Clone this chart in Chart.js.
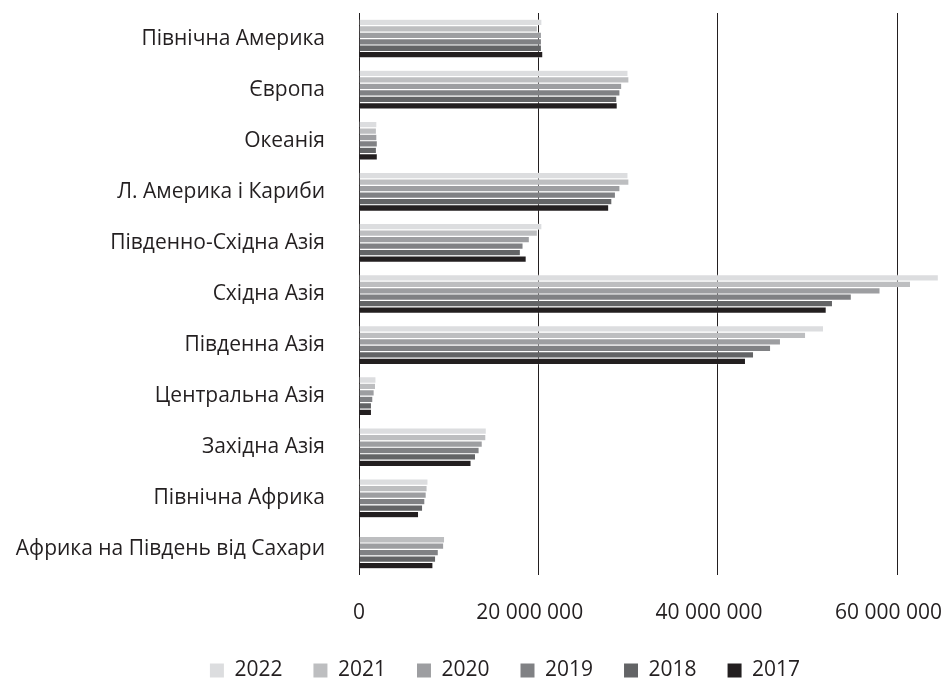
<!DOCTYPE html>
<html>
<head>
<meta charset="utf-8">
<script src="https://cdn.jsdelivr.net/npm/chart.js@4"></script>
<style>
  html, body { margin: 0; padding: 0; background: #fff; overflow: hidden; }
  #wrap { width: 942px; height: 679px; }
</style>
</head>
<body>
<div id="wrap"><canvas id="myChart"></canvas></div>
<script>
const regions = ["Північна Америка", "Європа", "Океанія", "Л. Америка і Кариби", "Південно-Східна Азія",
  "Східна Азія", "Південна Азія", "Центральна Азія", "Західна Азія", "Північна Африка", "Африка на Південь від Сахари"];

const years = ["2022", "2021", "2020", "2019", "2018", "2017"];

const v2022 = [20400000, 30000000, 2000000, 30000000, 20400000, 64600000, 51800000, 1900000, 14200000, 7700000, null];
const v2021 = [19900000, 30100000, 1950000, 30100000, 19900000, 61500000, 49800000, 1850000, 14150000, 7600000, 9550000];
const v2020 = [20350000, 29300000, 2000000, 29100000, 19000000, 58100000, 47000000, 1700000, 13750000, 7500000, 9450000];
const v2019 = [20350000, 29100000, 2050000, 28600000, 18300000, 54900000, 45900000, 1550000, 13400000, 7350000, 8850000];
const v2018 = [20350000, 28750000, 1950000, 28200000, 18000000, 52800000, 44000000, 1400000, 13000000, 7100000, 8550000];
const v2017 = [20500000, 28800000, 2050000, 27850000, 18650000, 52100000, 43100000, 1400000, 12500000, 6650000, 8250000];

const xTicks = [0, 20000000, 40000000, 60000000];

const series = [v2022, v2021, v2020, v2019, v2018, v2017];
const colors = ["#dcdddf", "#bdbec0", "#9d9ea1", "#808184", "#636466", "#231f20"];

const textColor = "#231f20";
const fontFamily = "'Open Sans', 'Noto Sans', sans-serif";

function fmt(v) {
  if (v === 0) return "0";
  // trailing figure space keeps the label a bit left of its gridline, like the original
  return String(v).replace(/\B(?=(\d{3})+(?!\d))/g, " ") + "\u2007 ";
}

// the legend sits a bit right of the page centre in the original
const shiftLegend = {
  id: "shiftLegend",
  afterLayout(chart) {
    chart.legend.left += 34;
    chart.legend.right += 34;
  },
};

const data = {
  labels: regions,
  datasets: years.map((y, i) => ({
    label: y,
    data: series[i],
    backgroundColor: colors[i],
    borderColor: "rgba(255,255,255,0.55)",
    borderWidth: 0.6,
    categoryPercentage: 0.76,
    barPercentage: 1,
  })),
};

const config = {
  type: "bar",
  data: data,
  plugins: [shiftLegend],
  options: {
    indexAxis: "y",
    responsive: true,
    maintainAspectRatio: false,
    animation: false,
    layout: { padding: { top: 13, left: 0, right: 0, bottom: -12 } },
    plugins: {
      tooltip: { enabled: false },
      legend: {
        position: "bottom",
        labels: {
          color: textColor,
          font: { family: fontFamily, size: 21 },
          boxWidth: 14,
          boxHeight: 14,
          padding: 31,
          generateLabels: (chart) =>
            chart.data.datasets.map((ds, i) => ({
              text: ds.label,
              fillStyle: ds.backgroundColor,
              strokeStyle: ds.backgroundColor,
              lineWidth: 0,
              fontColor: textColor,
              datasetIndex: i,
              hidden: false,
            })),
        },
      },
    },
    scales: {
      x: {
        min: 0,
        max: 65000000,
        afterBuildTicks: (scale) => {
          scale.ticks = xTicks.map((v) => ({ value: v }));
        },
        afterFit: (scale) => {
          scale.paddingLeft = 0;
          scale.paddingRight = 0;
          scale.height = 54;
        },
        grid: { color: "#231f20", lineWidth: 1, drawTicks: false },
        border: { display: false },
        ticks: {
          color: textColor,
          font: { family: fontFamily, size: 21 },
          padding: 25,
          maxRotation: 0,
          autoSkip: false,
          callback: (v) => fmt(v),
        },
      },
      y: {
        grid: { display: false, drawTicks: false },
        border: { display: false },
        afterFit: (scale) => {
          scale.width = 359;
          scale.paddingTop = 0;
          scale.paddingBottom = 0;
        },
        ticks: {
          color: textColor,
          font: { family: fontFamily, size: 21 },
          padding: 34,
          autoSkip: false,
        },
      },
    },
  },
};

const myChart = new Chart(document.getElementById("myChart"), config);
</script>
</body>
</html>
